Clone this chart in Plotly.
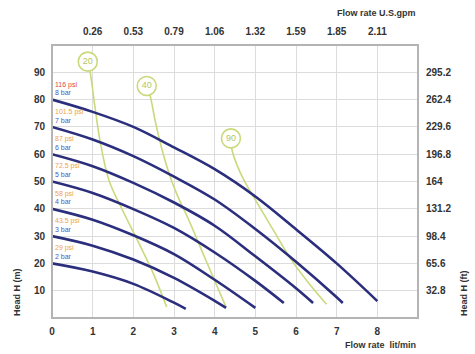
import plotly.graph_objects as go

# ---------------- data ----------------
x_ticks = [0, 1, 2, 3, 4, 5, 6, 7, 8]
gpm_ticks = [1, 2, 3, 4, 5, 6, 7, 8]
gpm_labels = ["0.26", "0.53", "0.79", "1.06", "1.32", "1.59", "1.85", "2.11"]
head_ticks = [10, 20, 30, 40, 50, 60, 70, 80, 90]
ft_labels = ["32.8", "65.6", "98.4", "131.2", "164", "196.8", "229.6", "262.4", "295.2"]

# pump curves (flow lit/min, head m)
c80_x = [0, 1, 2, 3, 4, 5, 6, 7, 8.0]
c80_y = [80, 75.5, 70, 62.5, 54.5, 44.5, 32.5, 20, 6.2]
c70_x = [0, 1, 2, 3, 4, 5, 6, 7, 7.15]
c70_y = [70, 65.4, 59.3, 51.8, 43.4, 32.6, 20.6, 7.6, 5.5]
c60_x = [0, 1, 2, 3, 4, 5, 6, 6.42]
c60_y = [60, 55.6, 49.5, 42.3, 33.8, 22.6, 10.9, 5.5]
c50_x = [0, 1, 2, 3, 4, 5, 5.7]
c50_y = [50, 45.8, 39.9, 33.0, 24.0, 13.6, 5.5]
c40_x = [0, 1, 2, 3, 4, 5.0]
c40_y = [40, 36, 30.3, 23.4, 14, 3.7]
c30_x = [0, 1, 2, 3, 4, 4.28]
c30_y = [30, 26.5, 21.4, 14.7, 6.3, 3.7]
c20_x = [0, 1, 2, 3, 3.29]
c20_y = [20, 17, 12.5, 5.6, 3.3]

pump_x = [c80_x, c70_x, c60_x, c50_x, c40_x, c30_x, c20_x]
pump_y = [c80_y, c70_y, c60_y, c50_y, c40_y, c30_y, c20_y]
psi_labels = ["116 psi", "101.5 psi", "87 psi", "72.5 psi", "58 psi", "43.5 psi", "29 psi"]
bar_labels = ["8 bar", "7 bar", "6 bar", "5 bar", "4 bar", "3 bar", "2 bar"]
start_heads = [80, 70, 60, 50, 40, 30, 20]

# air consumption lines
g20_x = [0.88, 0.95, 1.05, 1.18, 1.4, 1.75, 2.15, 2.5, 2.82]
g20_y = [93.9, 89, 78, 65, 50.5, 39, 27, 16, 4]
g40_x = [2.33, 2.42, 2.54, 2.70, 2.90, 3.08, 3.36, 3.76, 4.28]
g40_y = [85, 81, 72, 62, 52, 45, 36, 22, 4]
g90_x = [4.40, 4.42, 4.55, 4.72, 5.05, 5.45, 5.9, 6.3, 6.75]
g90_y = [65.8, 62, 56, 50.5, 42, 32, 21, 13, 5]
air_x = [g20_x, g40_x, g90_x]
air_y = [g20_y, g40_y, g90_y]
air_labels = ["20", "40", "90"]

# ---------------- styles ----------------
NAVY = "#2a2e7c"
GREEN = "#c9da7c"
GREEN_TXT = "#b5c65a"
GRID = "#dcdcdc"
TXT = "#333333"

fig = go.Figure()

for gx, gy in zip(air_x, air_y):
    fig.add_trace(go.Scatter(x=gx, y=gy, mode="lines", line=dict(color=GREEN, width=1.6, shape="spline"),
                             hoverinfo="skip", showlegend=False))

for px, py in zip(pump_x, pump_y):
    fig.add_trace(go.Scatter(x=px, y=py, mode="lines", line=dict(color=NAVY, width=2.6, shape="spline"),
                             showlegend=False))

fig.add_trace(go.Scatter(
    x=[g[0] for g in air_x], y=[g[0] for g in air_y], mode="markers+text",
    text=air_labels, textposition="middle center",
    textfont=dict(size=9, color=GREEN_TXT, family="Liberation Sans"),
    marker=dict(size=19, color="white", line=dict(color=GREEN, width=1.6)),
    showlegend=False))

# invisible trace for secondary axes
fig.add_trace(go.Scatter(x=[0], y=[0], xaxis="x2", yaxis="y2", mode="markers",
                         marker=dict(opacity=0), showlegend=False, hoverinfo="skip"))

for i, (h, p, b) in enumerate(zip(start_heads, psi_labels, bar_labels)):
    pcol = "#e04a3a" if i == 0 else "#f0a048"
    fig.add_annotation(x=0.03, y=h + 5.5, text=p, showarrow=False, xanchor="left", yanchor="middle",
                       font=dict(size=7, color=pcol, family="Liberation Sans"))
    fig.add_annotation(x=0.03, y=h + 2.5, text=b, showarrow=False, xanchor="left", yanchor="middle",
                       font=dict(size=7, color="#4a5ac8", family="Liberation Sans"))

tickfont = dict(size=10, color=TXT, family="Liberation Sans", weight="bold")
titlefont = dict(size=9, color=TXT, family="Liberation Sans", weight="bold")

fig.update_layout(
    width=475, height=354,
    margin=dict(l=52, r=57, t=45, b=36),
    paper_bgcolor="white", plot_bgcolor="white",
    xaxis=dict(range=[0, 9], tickvals=x_ticks, ticktext=[str(v) for v in x_ticks],
               showgrid=True, gridcolor=GRID, gridwidth=1, zeroline=False,
               ticks="outside", ticklen=4, tickcolor="rgba(0,0,0,0)", tickfont=tickfont,
               showline=False),
    yaxis=dict(range=[0, 100], tickvals=head_ticks, showgrid=True, gridcolor=GRID, gridwidth=1,
               zeroline=False, ticks="outside", ticklen=4, tickcolor="rgba(0,0,0,0)", tickfont=tickfont,
               showline=False),
    xaxis2=dict(range=[0, 9], overlaying="x", side="top", tickvals=gpm_ticks, ticktext=gpm_labels,
                showgrid=False, zeroline=False, ticks="outside", ticklen=5,
                tickcolor="rgba(0,0,0,0)", tickfont=tickfont),
    yaxis2=dict(range=[0, 100], overlaying="y", side="right", tickvals=head_ticks, ticktext=ft_labels,
                showgrid=False, zeroline=False, ticks="outside", ticklen=5,
                tickcolor="rgba(0,0,0,0)", tickfont=tickfont),
)

fig.add_shape(type="rect", xref="paper", yref="paper", x0=0, y0=0, x1=1, y1=1,
              line=dict(color="#b4b4b4", width=2), fillcolor="rgba(0,0,0,0)", layer="above")

fig.add_annotation(xref="paper", yref="paper", x=1.0, y=1.0, yshift=32, text="Flow rate U.S.gpm",
                   showarrow=False, xanchor="right", yanchor="middle", font=titlefont)
fig.add_annotation(xref="paper", yref="paper", x=1.0, y=0, yshift=-27, text="Flow rate  lit/min",
                   showarrow=False, xanchor="right", yanchor="middle", font=titlefont)
fig.add_annotation(xref="paper", yref="paper", x=0, xshift=-35, y=0, yanchor="bottom", text="Head H (m)",
                   textangle=-90, showarrow=False, xanchor="center", font=titlefont)
fig.add_annotation(xref="paper", yref="paper", x=1, xshift=46, y=0, yanchor="bottom", text="Head H (ft)",
                   textangle=-90, showarrow=False, xanchor="center", font=titlefont)

fig.write_html("out.html", config={"displayModeBar": False},
               post_script="document.body.style.margin='0';document.body.style.overflow='hidden';")
